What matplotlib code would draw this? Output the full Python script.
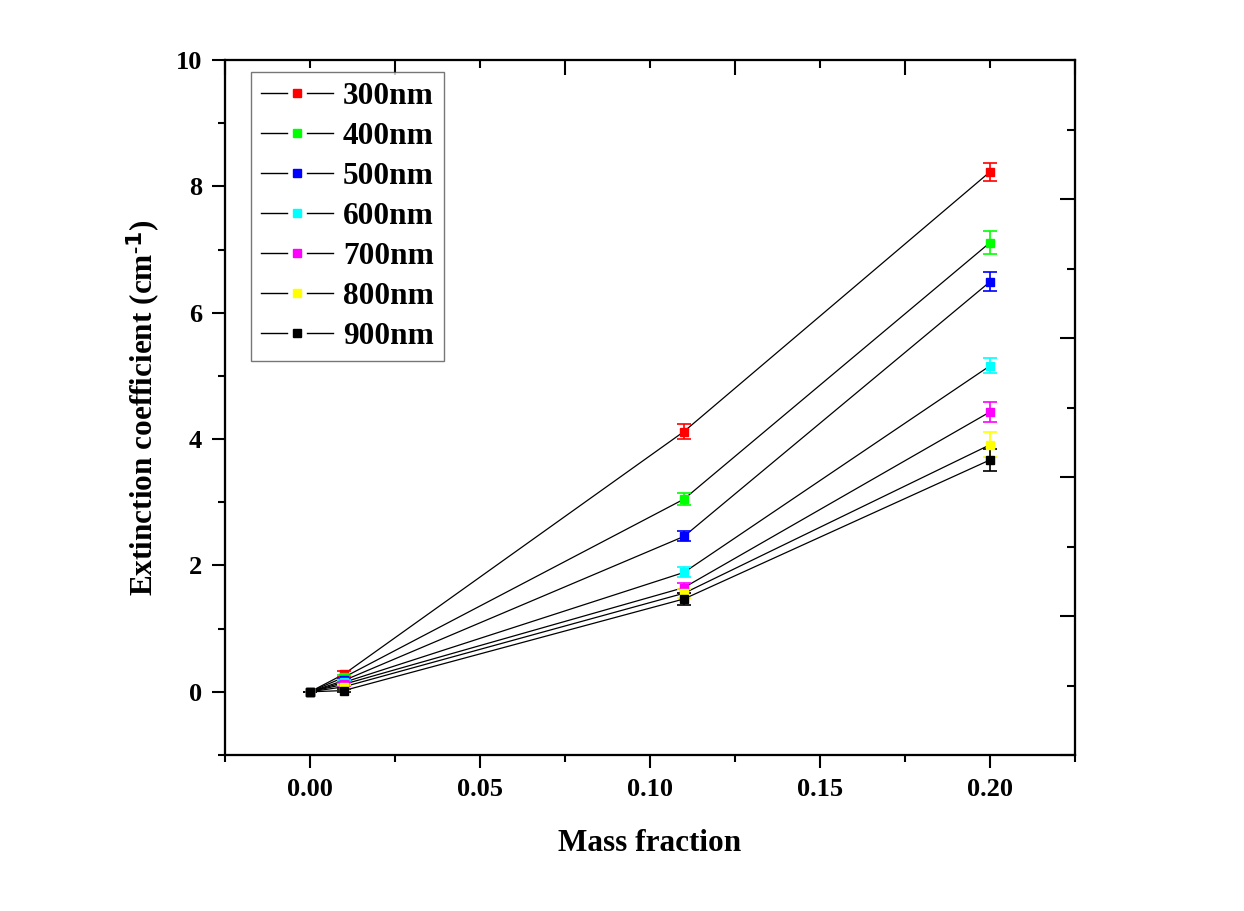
import matplotlib
matplotlib.use("Agg")
import matplotlib.pyplot as plt
from matplotlib.lines import Line2D
from matplotlib.legend_handler import HandlerBase
from matplotlib.ticker import MultipleLocator, NullFormatter

plt.rcParams['font.family'] = ['Liberation Serif', 'DejaVu Serif']
plt.rcParams['font.weight'] = 'bold'
plt.rcParams['mathtext.fontset'] = 'custom'
plt.rcParams['mathtext.rm'] = 'Liberation Serif:bold'
plt.rcParams['mathtext.it'] = 'Liberation Serif:bold'
plt.rcParams['mathtext.bf'] = 'Liberation Serif:bold'

# ---- data ----
mass_fraction = [0.0, 0.01, 0.11, 0.20]
labels = ['300nm', '400nm', '500nm', '600nm', '700nm', '800nm', '900nm']
colors = ['#ff0000', '#00ff00', '#0000ff', '#00ffff', '#ff00ff', '#ffff00', '#000000']

ext_300 = [0.0, 0.28, 4.12, 8.23]
ext_400 = [0.0, 0.23, 3.05, 7.11]
ext_500 = [0.0, 0.18, 2.46, 6.49]
ext_600 = [0.0, 0.15, 1.89, 5.16]
ext_700 = [0.0, 0.12, 1.65, 4.43]
ext_800 = [0.0, 0.08, 1.56, 3.91]
ext_900 = [0.0, 0.02, 1.47, 3.67]

err_300 = [0.0, 0.05, 0.12, 0.14]
err_400 = [0.0, 0.04, 0.09, 0.18]
err_500 = [0.0, 0.04, 0.08, 0.15]
err_600 = [0.0, 0.03, 0.08, 0.12]
err_700 = [0.0, 0.03, 0.08, 0.16]
err_800 = [0.0, 0.03, 0.07, 0.20]
err_900 = [0.0, 0.03, 0.09, 0.18]

series = [ext_300, ext_400, ext_500, ext_600, ext_700, ext_800, ext_900]
errors = [err_300, err_400, err_500, err_600, err_700, err_800, err_900]

# ---- figure ----
fig = plt.figure(figsize=(12.44, 9.11), dpi=100)
ax = fig.add_axes([225/1244, 1-755/911, 850/1244, 695/911])

for y, e, c in zip(series, errors, colors):
    ax.plot(mass_fraction, y, color='black', lw=0.9, zorder=2)
for y, e, c, lab in zip(series, errors, colors, labels):
    ax.errorbar(mass_fraction, y, yerr=e, fmt='none', ecolor=c, elinewidth=1.2,
                capsize=4.7, capthick=1.2, zorder=3)
    ax.plot(mass_fraction, y, ls='none', marker='s', ms=5.5, color=c,
            mec=c, zorder=4, label=lab)

ax.set_xlim(-0.025, 0.225)
ax.set_ylim(-1, 10)
ax.xaxis.set_major_locator(MultipleLocator(0.05))
ax.xaxis.set_minor_locator(MultipleLocator(0.025))
ax.yaxis.set_major_locator(MultipleLocator(2))
ax.yaxis.set_minor_locator(MultipleLocator(1))
ax.xaxis.set_major_formatter(matplotlib.ticker.FormatStrFormatter('%.2f'))
ax.tick_params(which='major', direction='out', length=9.5, width=1.5,
               labelsize=19, pad=7)
ax.tick_params(which='minor', direction='out', length=5, width=1.5)
for lab in ax.get_xticklabels() + ax.get_yticklabels():
    lab.set_fontweight('bold')
for s in ax.spines.values():
    s.set_linewidth(1.5)

ax.set_xlabel('Mass fraction', fontsize=22.5, fontweight='bold', labelpad=20)
ax.set_ylabel(r'Extinction coefficient (cm$^{\mathsf{\text{-}1}}$)', fontsize=22.5,
              fontweight='bold', labelpad=10)

# top / right axes with their own tick placement
axt = ax.twiny()
axt.set_xlim(0, 0.25)
axt.xaxis.set_major_locator(MultipleLocator(0.05))
axt.xaxis.set_minor_locator(MultipleLocator(0.025))
axt.xaxis.set_major_formatter(NullFormatter())
axt.tick_params(which='major', direction='in', length=11, width=1.5)
axt.tick_params(which='minor', direction='in', length=6, width=1.5)

axr = ax.twinx()
axr.set_ylim(0, 10)
axr.yaxis.set_major_locator(MultipleLocator(2))
axr.yaxis.set_minor_locator(MultipleLocator(1))
axr.yaxis.set_major_formatter(NullFormatter())
axr.tick_params(which='major', direction='in', length=11, width=1.5)
axr.tick_params(which='minor', direction='in', length=6, width=1.5)
for a in (axt, axr):
    for s in a.spines.values():
        s.set_linewidth(1.5)


class GapHandler(HandlerBase):
    def create_artists(self, legend, orig_handle, xdescent, ydescent,
                       width, height, fontsize, trans):
        y = height / 2 - ydescent
        x0 = -xdescent
        c = orig_handle.get_color()
        l1 = Line2D([x0, x0 + width * 0.36], [y, y], color='black', lw=1.0)
        l2 = Line2D([x0 + width * 0.64, x0 + width], [y, y], color='black', lw=1.0)
        m = Line2D([x0 + width / 2], [y], ls='none', marker='s', ms=6,
                   color=c, mec=c)
        for a in (l1, l2, m):
            a.set_transform(trans)
        return [l1, l2, m]


handles = [Line2D([], [], color=c) for c in colors]
leg = axr.legend(handles, labels, handler_map={Line2D: GapHandler()},
                 loc='upper left',
                 bbox_to_anchor=((251 - 225) / 850, 1 - (72 - 60) / 695),
                 borderaxespad=0, fancybox=False, frameon=True,
                 prop={'family': 'Liberation Serif', 'weight': 'bold', 'size': 22.5},
                 handlelength=2.3, handletextpad=0.32, labelspacing=0.35,
                 borderpad=0.32, edgecolor='#555555')
leg.get_frame().set_linewidth(1.0)

fig.savefig('out.png', dpi=100)
